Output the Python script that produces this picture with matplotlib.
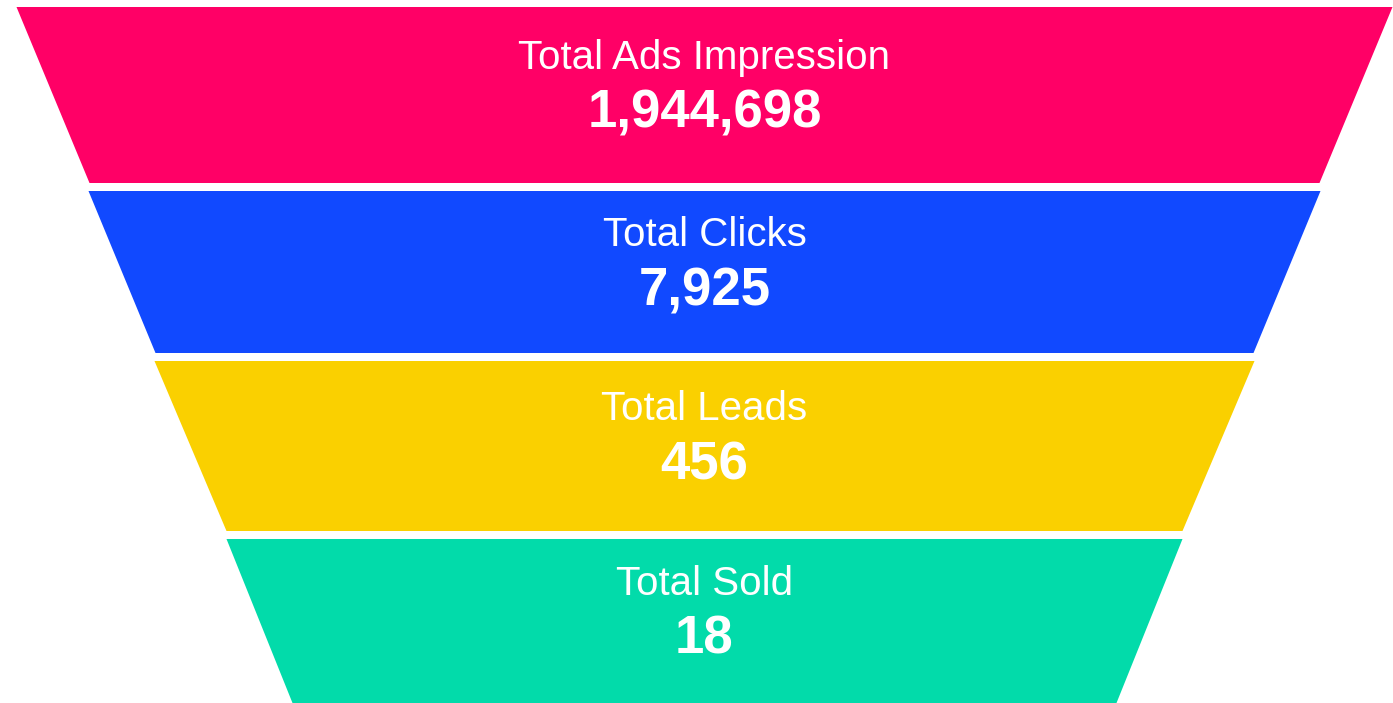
import matplotlib.pyplot as plt
from matplotlib.patches import Polygon

# funnel data
stages = ["Total Ads Impression", "Total Clicks", "Total Leads", "Total Sold"]
values = [1944698, 7925, 456, 18]
colors = ["#FF0066", "#1149FF", "#FAD000", "#02DBAA"]

W, H = 1393, 703
cx = 704.5
# band geometry in pixels (top y, bottom y, half width at top, half width at bottom)
tops = [7, 191, 361, 539]
bottoms = [183, 353, 531, 703]
half_top = [688, 616, 550, 478]
half_bot = [615, 549, 478, 412]

plt.rcParams['font.family'] = ['Liberation Sans', 'DejaVu Sans']
fig = plt.figure(figsize=(W / 100, H / 100), dpi=100)
ax = fig.add_axes([0, 0, 1, 1])
ax.set_xlim(0, W)
ax.set_ylim(H, 0)
ax.axis('off')

for i in range(len(stages)):
    t, b = tops[i], bottoms[i]
    pts = [(cx - half_top[i], t), (cx + half_top[i], t),
           (cx + half_bot[i], b), (cx - half_bot[i], b)]
    ax.add_patch(Polygon(pts, closed=True, facecolor=colors[i], edgecolor='none'))
    mid = (t + b) / 2
    ax.text(cx, mid - 26, stages[i], color='white', fontsize=29,
            ha='center', va='baseline')
    ax.text(cx, mid + 33, f"{values[i]:,}", color='white', fontsize=38,
            fontweight='bold', ha='center', va='baseline')

fig.savefig("out.png", dpi=100)
